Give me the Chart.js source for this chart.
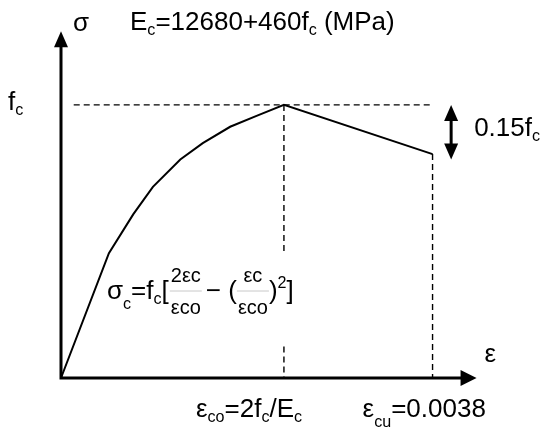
<!DOCTYPE html>
<html>
<head>
<meta charset="utf-8">
<script src="https://cdn.jsdelivr.net/npm/chart.js@4.4.0/dist/chart.umd.min.js"></script>
<style>
  body { margin: 0; background: #fff; }
  canvas { display: block; }
</style>
</head>
<body>
<canvas id="stressChart" width="550" height="434"></canvas>
<script>
// strain in units of 1e-3, stress as a fraction of fc
const strain = [0, 0.49, 0.74, 0.94, 1.22, 1.45, 1.73, 2.00, 2.28, 3.80];
const stress = [0, 0.457, 0.60, 0.70, 0.80, 0.86, 0.92, 0.96, 1.00, 0.82];

const epsCo = 2.28;
const epsCu = 3.80;
const fc = 1.0;
const fcLineStart = 0.13;
const coGap = [0.45, 0.115];      // break in the eps_co guide where the formula sits
const dropArrowX = 3.99;
const dropArrow = [1.0, 0.80];    // the 0.15fc arrow
const axisEndX = 4.25;
const axisEndY = 1.27;

const FONT = '"Liberation Sans", Arial, sans-serif';

const pts = (xs, ys) => xs.map((x, i) => ({ x: x, y: ys[i] }));

const dashed = {
  borderColor: "#000",
  borderWidth: 1.4,
  borderDash: [6, 4],
  pointRadius: 0,
  showLine: true,
  clip: false
};

function rich(ctx, x, y, parts, size) {
  let cx = x;
  parts.forEach(([t, k]) => {
    let s = size, dy = 0;
    if (k === "sub") { s = size * 0.62; dy = size * 0.18; }
    if (k === "low") { s = size * 0.62; dy = size * 0.4; }
    if (k === "sup") { s = size * 0.62; dy = -size * 0.42; }
    ctx.font = s + "px " + FONT;
    ctx.fillText(t, cx, y + dy);
    cx += ctx.measureText(t).width;
  });
  return cx;
}

function width(ctx, parts, size) {
  let w = 0;
  parts.forEach(([t, k]) => {
    const s = k ? size * 0.62 : size;
    ctx.font = s + "px " + FONT;
    w += ctx.measureText(t).width;
  });
  return w;
}

function frac(ctx, x, yBar, num, den, size) {
  const wn = width(ctx, num, size), wd = width(ctx, den, size);
  const w = Math.max(wn, wd) + 2;
  ctx.save();
  ctx.strokeStyle = "#c8c8c8";
  ctx.lineWidth = 1;
  ctx.beginPath();
  ctx.moveTo(x, yBar);
  ctx.lineTo(x + w, yBar);
  ctx.stroke();
  ctx.restore();
  rich(ctx, x + (w - wn) / 2, yBar - 9, num, size);
  rich(ctx, x + (w - wd) / 2, yBar + 23, den, size);
  return x + w;
}

function head(ctx, x, y, dir, len, half) {
  // dir: unit vector of the arrow direction, tip at (x, y)
  const [dx, dy] = dir;
  ctx.beginPath();
  ctx.moveTo(x, y);
  ctx.lineTo(x - dx * len - dy * half, y - dy * len + dx * half);
  ctx.lineTo(x - dx * len + dy * half, y - dy * len - dx * half);
  ctx.closePath();
  ctx.fill();
}

const decor = {
  id: "decor",
  afterDatasetsDraw(chart) {
    const { ctx, scales: { x, y } } = chart;
    const x0 = x.getPixelForValue(0), y0 = y.getPixelForValue(0);
    const xe = x.getPixelForValue(axisEndX), ye = y.getPixelForValue(axisEndY);
    ctx.save();
    ctx.fillStyle = "#000";
    ctx.strokeStyle = "#000";
    ctx.lineWidth = 3;
    ctx.lineCap = "square";
    ctx.beginPath();
    ctx.moveTo(x0, ye + 14);
    ctx.lineTo(x0, y0);
    ctx.lineTo(xe - 14, y0);
    ctx.stroke();
    head(ctx, x0, ye, [0, -1], 16, 7);
    head(ctx, xe, y0, [1, 0], 16, 8);

    // 0.15fc double arrow
    const ax = x.getPixelForValue(dropArrowX);
    const at = y.getPixelForValue(dropArrow[0]), ab = y.getPixelForValue(dropArrow[1]);
    ctx.lineCap = "butt";
    ctx.beginPath();
    ctx.moveTo(ax, at + 12);
    ctx.lineTo(ax, ab - 12);
    ctx.stroke();
    head(ctx, ax, at, [0, -1], 16, 7);
    head(ctx, ax, ab, [0, 1], 16, 7);

    // texts
    ctx.textBaseline = "alphabetic";
    const S = 26;
    rich(ctx, x0 + 12, 31, [["σ", ""]], S);
    rich(ctx, 130, 30, [["E", ""], ["c", "sub"], ["=12680+460f", ""], ["c", "sub"], [" (MPa)", ""]], S);
    rich(ctx, 8, y.getPixelForValue(fc) + 5, [["f", ""], ["c", "sub"]], S);
    rich(ctx, ax + 23, at + 31, [["0.15f", ""], ["c", "sub"]], S);
    rich(ctx, xe + 8, y0 - 16, [["ε", ""]], S);
    rich(ctx, x.getPixelForValue(epsCo) - 88, y0 + 39, [["ε", ""], ["co", "sub"], ["=2f", ""], ["c", "sub"], ["/E", ""], ["c", "sub"]], S);
    rich(ctx, x.getPixelForValue(epsCu) - 70, y0 + 39, [["ε", ""], ["cu", "low"], ["=0.0038", ""]], S);

    // formula
    const fb = 299, F = 20;
    let cx = rich(ctx, 107, fb, [["σ", ""], ["c", "low"], ["=f", ""], ["c", "sub"], ["[", ""]], S);
    cx = frac(ctx, cx + 1, fb - 8, [["2ε", ""], ["c", ""]], [["ε", ""], ["co", ""]], F);
    cx = rich(ctx, cx + 4, fb, [["−", ""], [" (", ""]], S);
    cx = frac(ctx, cx, fb - 8, [["ε", ""], ["c", ""]], [["ε", ""], ["co", ""]], F);
    rich(ctx, cx, fb, [[")", ""], ["2", "sup"], ["]", ""]], S);
    ctx.restore();
  }
};

new Chart(document.getElementById("stressChart").getContext("2d"), {
  type: "scatter",
  data: {
    datasets: [
      { data: pts(strain, stress), borderColor: "#000", borderWidth: 2, pointRadius: 0, showLine: true, tension: 0, clip: false },
      { data: [{ x: fcLineStart, y: fc }, { x: epsCu, y: fc }], ...dashed },
      { data: [{ x: epsCo, y: fc }, { x: epsCo, y: coGap[0] }], ...dashed },
      { data: [{ x: epsCo, y: coGap[1] }, { x: epsCo, y: 0 }], ...dashed },
      { data: [{ x: epsCu, y: stress[stress.length - 1] }, { x: epsCu, y: 0 }], ...dashed }
    ]
  },
  options: {
    responsive: false,
    animation: false,
    layout: { padding: { left: 61, right: 49, top: 23, bottom: 56 } },
    plugins: { legend: { display: false }, tooltip: { enabled: false } },
    scales: {
      x: { type: "linear", min: 0, max: 4.5, display: false },
      y: { min: 0, max: 1.3, display: false }
    }
  },
  plugins: [decor]
});
</script>
</body>
</html>
